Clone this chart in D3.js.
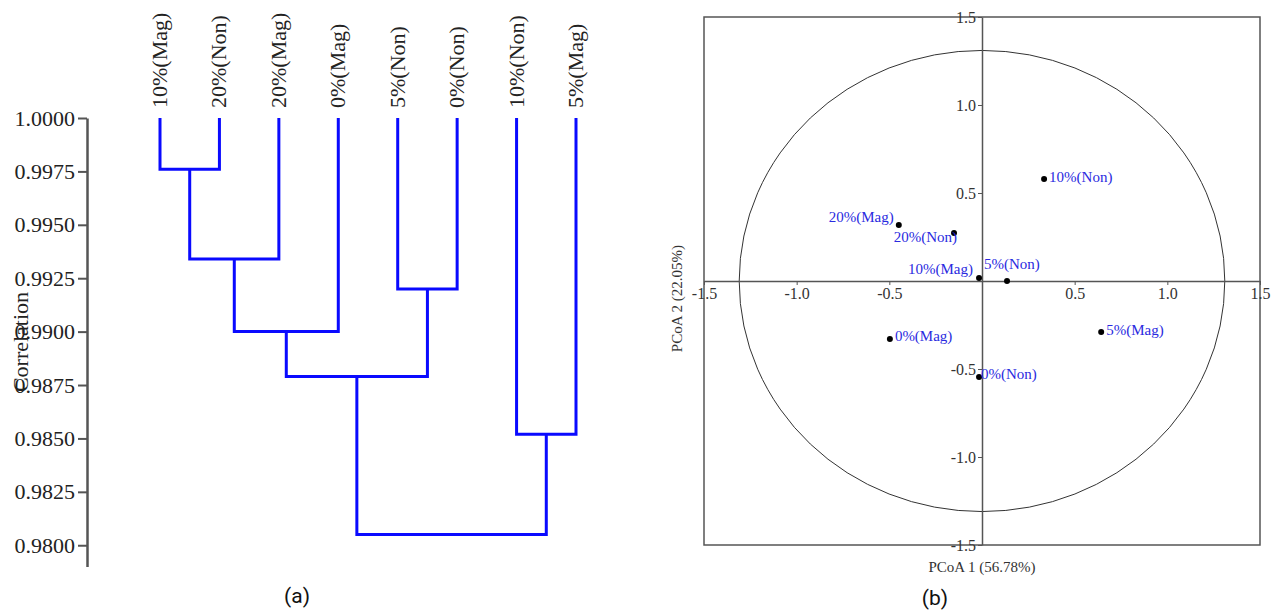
<!DOCTYPE html>
<html>
<head>
<meta charset="utf-8">
<script src="https://cdn.jsdelivr.net/npm/d3@7.9.0/dist/d3.min.js"></script>
<style>
  body { margin: 0; background: #fff; }
  svg { display: block; font-family: "Liberation Serif", serif; }
</style>
</head>
<body>
<svg id="chart" width="1277" height="610"></svg>
<script>
// dendrogram data
const leaves = ['10%(Mag)', '20%(Non)', '20%(Mag)', '0%(Mag)', '5%(Non)', '0%(Non)', '10%(Non)', '5%(Mag)'];
const mergePairs = [
  ['10%(Mag)', '20%(Non)'],
  ['m0', '20%(Mag)'],
  ['m1', '0%(Mag)'],
  ['5%(Non)', '0%(Non)'],
  ['m2', 'm3'],
  ['10%(Non)', '5%(Mag)'],
  ['m4', 'm5']
];
const mergeHeights = [0.9976, 0.9934, 0.9900, 0.9920, 0.9879, 0.9852, 0.9805];
const corrTicks = [1.0, 0.9975, 0.995, 0.9925, 0.99, 0.9875, 0.985, 0.9825, 0.98];

// PCoA data
const samples = ['10%(Non)', '20%(Mag)', '20%(Non)', '10%(Mag)', '5%(Non)', '0%(Mag)', '5%(Mag)', '0%(Non)'];
const pcoa1 = [0.335, -0.449, -0.151, -0.016, 0.135, -0.497, 0.643, -0.016];
const pcoa2 = [0.58, 0.318, 0.273, 0.017, 0.0, -0.33, -0.29, -0.545];
const pcoaTicks = [-1.5, -1.0, -0.5, 0.5, 1.0, 1.5];
const circleRadius = 1.31;

const svg = d3.select('#chart');
const blue = '#0a0aff';

// ---------- (a) dendrogram ----------
const yCorr = d3.scaleLinear().domain([0.979, 1.0]).range([566.6, 118]);
const xLeaf = d3.scalePoint().domain(leaves).range([160, 576]);

const dendro = svg.append('g');

const yAxisA = d3.axisLeft(yCorr)
  .tickValues(corrTicks)
  .tickFormat(d3.format('.4f'))
  .tickSize(9)
  .tickSizeOuter(0)
  .tickPadding(3);

const gA = dendro.append('g').attr('transform', 'translate(87,0)').call(yAxisA);
gA.select('.domain').attr('stroke', '#555').attr('stroke-width', 2.5);
gA.selectAll('.tick line').attr('stroke', '#555').attr('stroke-width', 2);
gA.selectAll('.tick text')
  .attr('font-family', 'Liberation Serif, serif')
  .attr('font-size', 22)
  .attr('fill', '#222');

// node positions
const nodes = {};
leaves.forEach(l => { nodes[l] = { x: xLeaf(l), h: 1.0 }; });
mergePairs.forEach((pair, i) => {
  const a = nodes[pair[0]], b = nodes[pair[1]];
  const h = mergeHeights[i];
  nodes['m' + i] = { x: (a.x + b.x) / 2, h: h };
  const p = d3.path();
  p.moveTo(a.x, yCorr(a.h));
  p.lineTo(a.x, yCorr(h));
  p.lineTo(b.x, yCorr(h));
  p.lineTo(b.x, yCorr(b.h));
  dendro.append('path')
    .attr('d', p.toString())
    .attr('fill', 'none')
    .attr('stroke', blue)
    .attr('stroke-width', 3);
});

dendro.selectAll('.leaf-label')
  .data(leaves)
  .join('text')
  .attr('class', 'leaf-label')
  .attr('transform', d => `translate(${xLeaf(d) + 7},108) rotate(-90)`)
  .attr('font-size', 22)
  .attr('fill', '#222')
  .text(d => d);

dendro.append('text')
  .attr('transform', 'translate(28,342) rotate(-90)')
  .attr('text-anchor', 'middle')
  .attr('font-size', 22)
  .attr('fill', '#222')
  .text('Correlation');

svg.append('text')
  .attr('x', 297).attr('y', 603)
  .attr('text-anchor', 'middle')
  .attr('font-family', 'Roboto, sans-serif')
  .attr('font-size', 21)
  .attr('fill', '#111')
  .text('(a)');

// ---------- (b) PCoA ----------
const xP = d3.scaleLinear().domain([-1.5, 1.5]).range([704, 1260]);
const yP = d3.scaleLinear().domain([-1.5, 1.5]).range([545, 17]);

const pc = svg.append('g');

pc.append('rect')
  .attr('x', xP(-1.5)).attr('y', yP(1.5))
  .attr('width', xP(1.5) - xP(-1.5))
  .attr('height', yP(-1.5) - yP(1.5))
  .attr('fill', 'none')
  .attr('stroke', '#555')
  .attr('stroke-width', 1.5);

pc.append('ellipse')
  .attr('cx', xP(0)).attr('cy', yP(0))
  .attr('rx', xP(circleRadius) - xP(0))
  .attr('ry', yP(0) - yP(circleRadius))
  .attr('fill', 'none')
  .attr('stroke', '#333')
  .attr('stroke-width', 1);

const xAxisB = d3.axisBottom(xP).tickValues(pcoaTicks).tickFormat(d3.format('.1f'))
  .tickSize(4).tickSizeOuter(0).tickPadding(3);
const yAxisB = d3.axisLeft(yP).tickValues(pcoaTicks).tickFormat(d3.format('.1f'))
  .tickSize(4).tickSizeOuter(0).tickPadding(2);

const gx = pc.append('g').attr('transform', `translate(0,${yP(0)})`).call(xAxisB);
const gy = pc.append('g').attr('transform', `translate(${xP(0)},0)`).call(yAxisB);
[gx, gy].forEach(g => {
  g.select('.domain').attr('stroke', '#555').attr('stroke-width', 1.5);
  g.selectAll('.tick line').attr('stroke', '#555');
  g.selectAll('.tick text')
    .attr('font-family', 'Liberation Serif, serif')
    .attr('font-size', 16)
    .attr('fill', '#333')
    .text(d => d3.format('.1f')(d).replace('−', '-'));
});

// label offsets per sample (dx, dy, anchor)
const labelDx = [5, -5, 3, -6, -23, 5, 5, 2];
const labelDy = [-2, -8, 4, -9, -17, -3, -2, -3];
const labelAnchor = ['start', 'end', 'end', 'end', 'start', 'start', 'start', 'start'];

pc.selectAll('.pt')
  .data(samples)
  .join('circle')
  .attr('class', 'pt')
  .attr('cx', (d, i) => xP(pcoa1[i]))
  .attr('cy', (d, i) => yP(pcoa2[i]))
  .attr('r', 3)
  .attr('fill', '#000');

pc.selectAll('.pt-label')
  .data(samples)
  .join('text')
  .attr('class', 'pt-label')
  .attr('x', (d, i) => xP(pcoa1[i]) + labelDx[i])
  .attr('y', (d, i) => yP(pcoa2[i]) + labelDy[i])
  .attr('dy', '0.35em')
  .attr('text-anchor', (d, i) => labelAnchor[i])
  .attr('font-size', 15)
  .attr('fill', '#2a2ae0')
  .text(d => d);

pc.append('text')
  .attr('x', xP(0)).attr('y', 572)
  .attr('text-anchor', 'middle')
  .attr('font-size', 15)
  .attr('fill', '#333')
  .text('PCoA 1 (56.78%)');

pc.append('text')
  .attr('transform', `translate(682,${yP(-0.1)}) rotate(-90)`)
  .attr('text-anchor', 'middle')
  .attr('font-size', 15)
  .attr('fill', '#333')
  .text('PCoA 2 (22.05%)');

svg.append('text')
  .attr('x', 935).attr('y', 605)
  .attr('text-anchor', 'middle')
  .attr('font-family', 'Roboto, sans-serif')
  .attr('font-size', 21)
  .attr('fill', '#111')
  .text('(b)');
</script>
</body>
</html>
